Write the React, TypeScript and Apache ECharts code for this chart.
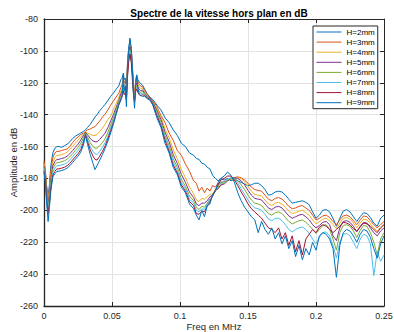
import React, { useEffect, useRef } from "react";
import * as echarts from "echarts";

// Frequency grid (MHz)
const freq = [
  0, 0.001, 0.002, 0.003, 0.004, 0.005, 0.0065, 0.008, 0.0095,
  0.011, 0.013, 0.015, 0.017, 0.019, 0.021, 0.023, 0.025, 0.027, 0.029, 0.0305, 0.032, 0.034, 0.036, 0.0375, 0.039, 0.041, 0.043, 0.045, 0.047, 0.049, 0.051, 0.053, 0.055,
  0.0565, 0.0575, 0.0583, 0.059, 0.0598, 0.0606, 0.0614, 0.0622, 0.0632, 0.0642, 0.065, 0.0658, 0.0666, 0.0674, 0.0682, 0.069, 0.07, 0.071,
  0.0725, 0.074, 0.076, 0.078, 0.08, 0.083, 0.086, 0.089, 0.092, 0.095, 0.098, 0.101, 0.104, 0.107, 0.11, 0.112, 0.114, 0.116, 0.118, 0.12, 0.122, 0.124, 0.126, 0.128, 0.13,
  0.1325, 0.135, 0.1375, 0.14, 0.1425, 0.145, 0.1475, 0.15, 0.1525, 0.155, 0.1575, 0.16, 0.1625, 0.165, 0.1675, 0.17, 0.1725, 0.175, 0.1775, 0.18,
  0.1825, 0.185, 0.1875, 0.19, 0.1925, 0.195, 0.1975, 0.2, 0.2025, 0.205, 0.2075, 0.21, 0.2125, 0.215, 0.2175, 0.22, 0.2225, 0.225, 0.2275, 0.23,
  0.2325, 0.235, 0.2375, 0.24, 0.2425, 0.245, 0.2475, 0.25,
];

const h2 = [
  -170, -176, -186, -191, -184, -172, -164, -161, -160,
  -160, -160.5, -159.5, -158.5, -157, -155, -153.5, -152.5, -151.5, -150.5, -149.5, -148, -146, -143.5, -141.5, -140, -137.5, -135.5, -133.5, -131, -128.5, -126.5, -124, -122,
  -118, -117, -114, -118, -117, -128, -107, -99, -93, -99, -109, -124, -130, -118, -115, -118, -119.5, -120.5,
  -121.5, -124, -127, -129, -130.5, -134, -137, -142, -145, -149.5, -153, -158, -160, -164, -165.5, -167.5, -168, -170.5, -171, -173, -174, -178, -180, -181.5, -180,
  -181, -180, -181.5, -180.5, -181.5, -182.5, -183.5, -184.5, -184, -183, -183, -184.5, -187, -190.5, -190, -188.5, -188, -188.5, -190.5, -193,
  -195.5, -195, -194.5, -194, -195, -196.5, -201, -205, -203, -200, -199.5, -201, -205, -210, -205, -200.5, -199.5, -201, -204, -207,
  -204, -201.5, -202, -204.5, -208, -210, -205, -203,
];

const h3 = [
  -169, -175, -185, -192, -186, -175, -167, -164, -163,
  -163, -162.5, -162, -161.5, -160, -157.5, -155.5, -154, -152.5, -151.5, -150.5, -149.5, -149, -148, -147.5, -146, -144, -141.5, -139.5, -137, -134, -131.5, -129, -126.5,
  -123, -121, -117, -120, -119, -126, -108, -100, -94.5, -100, -110, -122, -127, -119, -117, -119.5, -121, -122,
  -122.5, -125, -127.5, -129.5, -131, -135, -140.5, -145, -151.5, -156, -162.5, -165.5, -171, -175.5, -181.5, -183, -188, -185.5, -189, -186, -188, -184.5, -185.5, -183, -182.5,
  -182, -181, -180.5, -179.5, -179, -179.5, -181, -183, -185.5, -187, -187.5, -188, -190.5, -193, -194, -192.5, -192, -193, -195, -197.5,
  -199, -198.5, -197.5, -197, -198.5, -200, -203, -206, -205, -203.5, -203, -204.5, -207, -209, -206, -203.5, -203, -204, -206.5, -209,
  -206, -203.5, -204, -206.5, -209, -211, -209, -207,
];

const h4 = [
  -171, -177, -188, -194, -188, -178, -170, -167, -165.5,
  -165.5, -165, -164.5, -163.5, -162, -160, -158, -156, -154, -152, -151, -151.5, -152.5, -153, -153, -152.5, -150.5, -148.5, -146, -143, -141, -137, -133, -129.5,
  -125, -123, -119, -122, -121, -127, -110, -101.5, -96, -101.5, -112, -123, -128, -120.5, -118.5, -121, -122.5, -123.5,
  -123.5, -125.5, -128, -129.5, -131.5, -136.5, -141.5, -149, -154.5, -162, -167.5, -174.5, -179.5, -185.5, -189.5, -193.5, -194.5, -192.5, -193, -191.5, -190, -189.5, -187, -186.5, -184.5,
  -183, -181.5, -180.5, -180, -179.5, -180, -182, -185, -188, -190, -190.5, -191, -193.5, -196, -197, -195.5, -195, -196, -198, -200.5,
  -202, -201.5, -200.5, -200, -201.5, -203, -206, -208.5, -207, -205.5, -205, -206.5, -209, -211.5, -208, -205, -204.5, -205.5, -208, -211,
  -208, -205.5, -206, -208.5, -211, -213, -211, -209,
];

const h5 = [
  -172, -178, -190, -196, -190, -180, -172, -169.5, -168,
  -168, -167.5, -167, -166, -164.5, -162.5, -160.5, -158.5, -156, -153, -151, -152.5, -155, -156.5, -157, -157, -155.5, -153.5, -151.5, -148, -144, -140, -135.5, -131,
  -127, -125, -121, -124, -123, -128, -112, -103, -97.5, -103, -113.5, -124, -129, -122, -120, -122.5, -124, -125,
  -124.5, -126.5, -128.5, -129.5, -132, -137.5, -143, -151, -157, -165, -170.5, -177.5, -182.5, -188.5, -192, -196, -197, -195.5, -195.5, -194, -191.5, -190.5, -187.5, -186.5, -184,
  -183.5, -181.5, -180, -179.5, -180, -181.5, -184, -187.5, -190.5, -192.5, -193, -193.5, -196, -198.5, -199.5, -198, -197.5, -198.5, -201, -203.5,
  -205, -204, -203, -202.5, -204, -206, -209, -211, -209.5, -207.5, -207, -209, -216, -219, -211, -207, -206.5, -207.5, -210, -213.5,
  -210, -207.5, -208, -211, -214, -216, -213, -211,
];

const h6 = [
  -173, -179, -191, -198, -192, -182, -174, -171.5, -170,
  -170, -169.5, -169, -168, -166.5, -164.5, -162.5, -160.5, -158, -154.5, -151.5, -154, -157.5, -160, -161, -161, -159.5, -157.5, -155, -151, -146.5, -142, -137, -132,
  -128.5, -126.5, -122.5, -125.5, -124.5, -129, -113.5, -104.5, -99, -104.5, -115, -125, -130, -123.5, -121.5, -124, -125.5, -126,
  -125.5, -127, -129, -130, -132.5, -138.5, -144.5, -153, -159.5, -167.5, -173, -180.5, -185, -191, -194, -198, -199.5, -197.5, -198, -195.5, -193, -191, -188, -185.5, -183,
  -183, -181, -180, -180, -181.5, -184, -187, -190.5, -193.5, -195.5, -196, -197, -199.5, -202, -203, -201.5, -201, -202, -204.5, -207,
  -208.5, -207.5, -206.5, -206, -207.5, -209.5, -212, -214.5, -212, -209.5, -209, -212, -218, -225, -214, -209.5, -209, -210, -213, -217,
  -212.5, -209.5, -210, -214, -220, -228, -218, -214,
];

const h7 = [
  -174, -180, -193, -200, -194, -184, -176, -173.5, -172,
  -172, -171.5, -171, -170, -168.5, -166.5, -164.5, -162.5, -160, -156, -152, -155.5, -160, -163, -164.5, -165, -163, -160.5, -157.5, -153.5, -148.5, -143.5, -138, -133,
  -129.5, -127.5, -124, -126.5, -125.5, -130, -115, -106, -100.5, -106, -116.5, -126, -131, -124.5, -123, -125, -126.5, -127,
  -126.5, -127.5, -129.5, -130, -133, -139.5, -146, -154.5, -161.5, -169.5, -175, -182.5, -186.5, -193, -195.5, -200, -201, -199, -199.5, -196, -193.5, -190.5, -187.5, -184.5, -182,
  -182.5, -180.5, -179.5, -180.5, -183, -186.5, -190, -193.5, -196.5, -198.5, -199, -200, -202.5, -205.5, -206.5, -205, -205, -206.5, -209, -212,
  -213.5, -212, -211, -210.5, -212, -214.5, -218, -221, -217, -214, -213.5, -216, -222, -230, -220, -215, -214.5, -216, -220, -224,
  -218, -215, -216, -221, -241, -226, -232, -228,
];

const h8 = [
  -175, -181, -194, -202, -196, -186, -178, -175.5, -174,
  -174, -173.5, -173, -172, -170.5, -168.5, -166.5, -164.5, -162, -157.5, -152.5, -157, -162, -166, -168, -168.5, -166, -163, -159.5, -155, -150, -145, -139.5, -133.5,
  -130.5, -128.5, -125, -127.5, -126.5, -131, -116.5, -107.5, -102, -107.5, -118, -127, -132, -125.5, -124, -126, -127.5, -128,
  -127.5, -128, -129.5, -130.5, -133.5, -140.5, -147, -156, -163, -171.5, -176.5, -184, -188, -194.5, -197, -202, -202.5, -200.5, -201, -197.5, -194.5, -191, -187.5, -184, -181,
  -180, -178.5, -178.5, -181, -184.5, -188.5, -192, -196, -199, -201, -203, -205, -208, -211, -212, -214, -211, -218, -214, -222,
  -216, -226, -219, -228, -218, -215, -212, -214, -210.5, -209, -210, -212, -214, -212, -210, -207.5, -208, -209, -211.5, -213,
  -210.5, -208, -208.5, -210, -212, -214, -211, -209,
];

const h9 = [
  -176, -183, -196, -207, -198, -188, -179, -177, -175.5,
  -175.5, -175, -174.5, -173.5, -172, -170, -168, -166, -163.5, -159, -153, -158.5, -165, -170.5, -174.5, -172, -168.5, -165, -161, -156.5, -151.5, -146, -140, -134,
  -131, -128, -115, -125, -122, -135, -110, -100, -92, -99, -111, -128, -136, -121, -116, -123, -127, -128,
  -128.5, -128.5, -130, -131, -134, -142, -148, -158, -164, -173, -177.5, -185.5, -189, -196, -199, -203, -206, -200, -204, -197, -196, -190, -188, -182.5, -180,
  -178.5, -176, -178, -182.5, -189, -194, -198, -201, -204, -206, -214, -207, -212, -215, -211, -218, -214, -221, -216, -224,
  -219, -229, -222, -231, -224, -228, -220, -225, -216, -214, -215, -218, -224, -242, -222, -214, -212, -213, -216, -220,
  -215, -212, -213, -217, -224, -230, -221, -216,
];

const seriesNames = ["H=2mm", "H=3mm", "H=4mm", "H=5mm", "H=6mm", "H=7mm", "H=8mm", "H=9mm"];
const seriesValues = [h2, h3, h4, h5, h6, h7, h8, h9];
const colors = ["#0072BD", "#D95319", "#EDB120", "#7E2F8E", "#77AC30", "#4DBEEE", "#A2142F", "#0072BD"];

const FONT = "'Liberation Sans', Arial, Helvetica, sans-serif";
const AXIS_COLOR = "#262626";

export default function App() {
  const ref = useRef<HTMLDivElement>(null);

  useEffect(() => {
    if (!ref.current) return;
    const chart = echarts.init(ref.current, null, { renderer: "svg" });

    const series = seriesValues.map((vals, i) => ({
      name: seriesNames[i],
      type: "line",
      data: vals.map((v, j) => [freq[j], v]),
      showSymbol: false,
      symbol: "none",
      silent: true,
      lineStyle: { width: 1, color: colors[i] },
      itemStyle: { color: colors[i] },
      z: 2 + i,
    }));

    const axisTickCommon = { show: true, inside: true, length: 4, lineStyle: { color: AXIS_COLOR, width: 1 } };

    chart.setOption({
      animation: false,
      backgroundColor: "#ffffff",
      textStyle: { fontFamily: FONT },
      title: {
        text: "Spectre de la vitesse hors plan en dB",
        left: 214,
        top: 3,
        textAlign: "center",
        textStyle: { fontSize: 10, fontWeight: "bold", color: "#000", fontFamily: FONT },
      },
      grid: { left: 44, right: 10, top: 19, bottom: 26, containLabel: false, outerBoundsMode: "none" },
      legend: {
        orient: "vertical",
        left: 313,
        top: 26,
        itemWidth: 25,
        itemHeight: 8,
        itemGap: 2.1,
        padding: [2, 3, 2, 3],
        borderColor: AXIS_COLOR,
        borderWidth: 1,
        borderRadius: 0,
        backgroundColor: "#ffffff",
        itemStyle: { opacity: 0 },
        lineStyle: { width: 1 },
        textStyle: { fontSize: 8, color: "#000", fontFamily: FONT, lineHeight: 8 },
        data: seriesNames.map((n) => n),
      },
      xAxis: [
        {
          type: "value",
          min: 0,
          max: 0.25,
          interval: 0.05,
          position: "bottom",
          name: "Freq en MHz",
          nameLocation: "middle",
          nameGap: 15,
          nameMoveOverlap: false,
          nameTextStyle: { fontSize: 9.5, color: AXIS_COLOR, fontFamily: FONT },
          axisLine: { show: true, onZero: false, lineStyle: { color: AXIS_COLOR, width: 1.3 } },
          axisTick: axisTickCommon,
          axisLabel: { fontSize: 9, color: AXIS_COLOR, margin: 5, formatter: (v: number) => String(+v.toFixed(2)) },
          splitLine: { show: true, lineStyle: { color: "#e3e3e3", width: 1 } },
        },
        {
          type: "value",
          min: 0,
          max: 0.25,
          interval: 0.05,
          position: "top",
          axisLine: { show: true, onZero: false, lineStyle: { color: AXIS_COLOR, width: 1 } },
          axisTick: axisTickCommon,
          axisLabel: { show: false },
          splitLine: { show: false },
        },
      ],
      yAxis: [
        {
          type: "value",
          min: -260,
          max: -80,
          interval: 20,
          position: "left",
          name: "Amplitude en dB",
          nameLocation: "middle",
          nameGap: 26,
          nameMoveOverlap: false,
          nameTextStyle: { fontSize: 9.5, color: AXIS_COLOR, fontFamily: FONT },
          axisLine: { show: true, onZero: false, lineStyle: { color: AXIS_COLOR, width: 1.3 } },
          axisTick: axisTickCommon,
          axisLabel: { fontSize: 9, color: AXIS_COLOR, margin: 6 },
          splitLine: { show: true, lineStyle: { color: "#e3e3e3", width: 1 } },
        },
        {
          type: "value",
          min: -260,
          max: -80,
          interval: 20,
          position: "right",
          axisLine: { show: true, onZero: false, lineStyle: { color: AXIS_COLOR, width: 1 } },
          axisTick: axisTickCommon,
          axisLabel: { show: false },
          splitLine: { show: false },
        },
      ],
      series,
    });

    return () => {
      chart.dispose();
    };
  }, []);

  return (
    <div
      ref={ref}
      style={{ position: "fixed", left: 0, top: 0, width: 394, height: 332, background: "#fff" }}
    />
  );
}
